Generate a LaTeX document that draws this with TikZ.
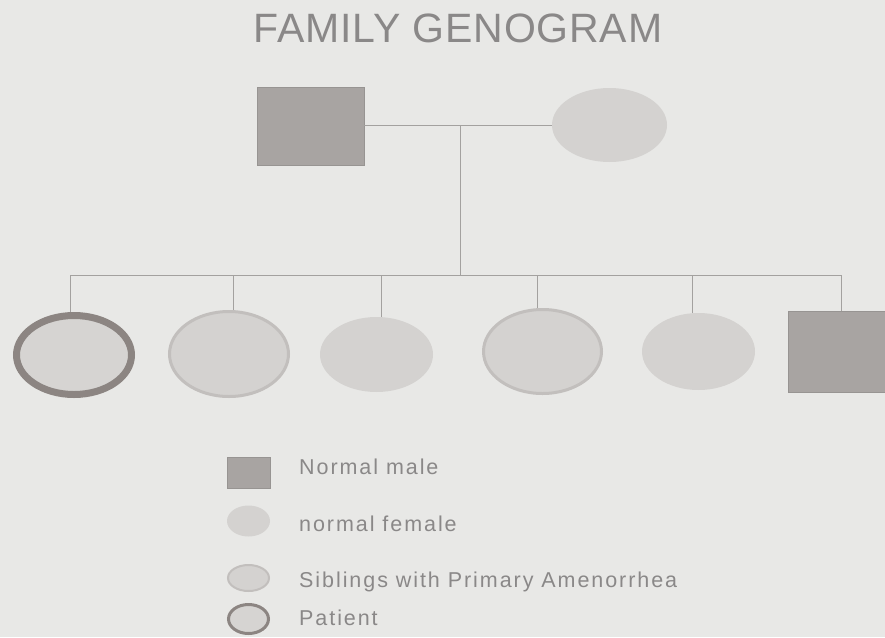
\documentclass[tikz,border=0pt]{standalone}
\usepackage{fontspec}
\setmainfont{Liberation Sans}
\newfontfamily\legfont[LetterSpace=9]{Liberation Sans}
\newfontfamily\titfont[LetterSpace=2]{Liberation Sans}
\usetikzlibrary{shapes.geometric}
\definecolor{bg}{HTML}{E8E8E6}
\definecolor{malec}{HTML}{A8A4A2}
\definecolor{femc}{HTML}{D4D2D0}
\definecolor{sibborder}{HTML}{C2BFBD}
\definecolor{patborder}{HTML}{8C8582}
\definecolor{linec}{HTML}{A3A19F}
\definecolor{txtc}{HTML}{8A8888}
\tikzset{
  male/.style={rectangle, fill=malec, draw=malec!90!black, line width=0.6pt, inner sep=0pt},
  female/.style={ellipse, fill=femc, inner sep=0pt},
  sibling/.style={ellipse, fill=femc, draw=sibborder, line width=3pt, inner sep=0pt},
  patient/.style={ellipse, fill=femc!95!white, draw=patborder, line width=7pt, inner sep=0pt},
  link/.style={draw=linec, line width=0.9pt},
  legtext/.style={anchor=base west, text=txtc, font=\legfont\fontsize{21.5}{24}\selectfont, inner sep=0pt},
}
\begin{document}
\begin{tikzpicture}[x=1pt,y=-1pt]
\fill[bg] (0,0) rectangle (885,637);
\useasboundingbox (0,0) rectangle (885,637);

\node[text=txtc, font=\titfont\fontsize{41}{46}\selectfont] (title) at (458,28) {FAMILY GENOGRAM};

% parents
\node[male, minimum width=107pt, minimum height=78pt] (father) at (310.5,126) {};
\node[female, minimum width=115pt, minimum height=74pt] (mother) at (609.5,125) {};

% children
\node[patient, minimum width=115pt, minimum height=79pt] (c1) at (74,355) {};
\node[sibling, minimum width=119pt, minimum height=85pt] (c2) at (229,354) {};
\node[female, minimum width=113pt, minimum height=75pt] (c3) at (376.5,354.5) {};
\node[sibling, minimum width=118pt, minimum height=84pt] (c4) at (542.5,351.5) {};
\node[female, minimum width=113pt, minimum height=77pt] (c5) at (698.5,351.5) {};
\node[male, minimum width=106pt, minimum height=81pt] (c6) at (841,351.5) {};

% connectors
\coordinate (mid) at (460,125);
\coordinate (sib) at (460,275);
\coordinate (d1) at (70,275);
\coordinate (d2) at (233,275);
\coordinate (d3) at (381,275);
\coordinate (d4) at (537,275);
\coordinate (d5) at (692,275);
\coordinate (d6) at (841,275);
\path[link] (father.east |- mid) -- (mother.west);
\path[link] (mid) -- (sib);
\path[link] (d1) -- (d6);
\path[link] (d1) -- (d1 |- c1.north);
\path[link] (d2) -- (d2 |- c2.north);
\path[link] (d3) -- (d3 |- c3.north);
\path[link] (d4) -- (d4 |- c4.north);
\path[link] (d5) -- (d5 |- c5.north);
\path[link] (d6) -- (c6.north);

% legend
\node[male, minimum width=43pt, minimum height=31pt] (lmale) at (248.5,472.5) {};
\node[female, minimum width=43pt, minimum height=31pt] (lfem) at (248.5,521) {};
\node[sibling, line width=2pt, minimum width=41pt, minimum height=26pt] (lsib) at (248.5,578) {};
\node[patient, line width=3pt, minimum width=40pt, minimum height=29pt] (lpat) at (248.5,619) {};
\node[legtext] (tmale) at (299,474) {Normal male};
\node[legtext] (tfem) at (299,531) {normal female};
\node[legtext] (tsib) at (299,587) {Siblings with Primary Amenorrhea};
\node[legtext] (tpat) at (299,625) {Patient};
\end{tikzpicture}
\end{document}
